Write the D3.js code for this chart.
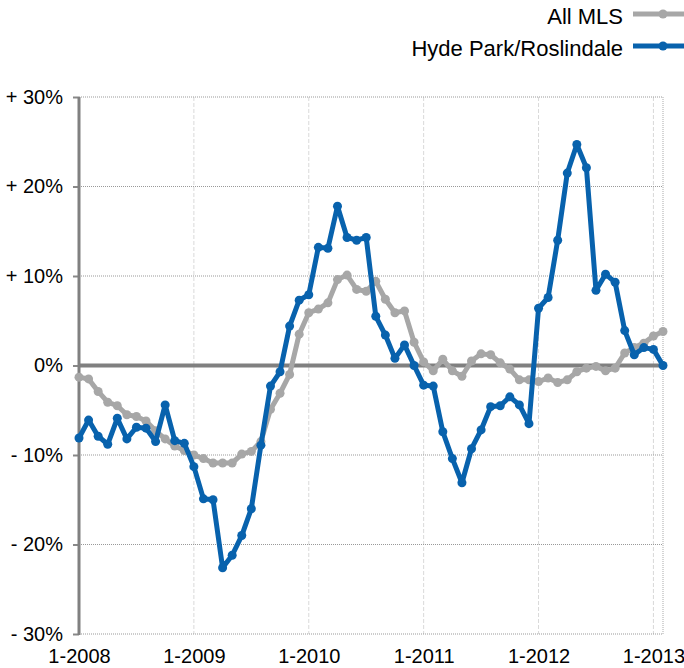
<!DOCTYPE html>
<html>
<head>
<meta charset="utf-8">
<script src="https://cdn.jsdelivr.net/npm/d3@7"></script>
<style>
  body { margin: 0; background: #fff; }
  svg { display: block; font-family: "Liberation Sans", Arial, Helvetica, sans-serif; }
</style>
</head>
<body>
<div id="chart"></div>
<script>
// monthly change, Jan 2008 .. Feb 2013
const months = d3.timeMonths(new Date(2008, 0, 1), new Date(2013, 2, 1));

const allMls = [
  -1.3, -1.5, -2.9, -4.1, -4.5, -5.5, -5.7, -6.2, -7.3, -8.2, -9.0, -9.5,
  -10.0, -10.4, -10.9, -10.9, -10.9, -9.9, -9.6, -8.5, -4.9, -3.1, -1.0, 3.5,
  5.9, 6.3, 7.0, 9.6, 10.1, 8.5, 8.3, 9.4, 7.4, 5.9, 6.1, 2.6,
  0.4, -0.6, 0.7, -0.6, -1.2, 0.5, 1.3, 1.2, 0.3, -0.4, -1.6, -1.6,
  -1.8, -1.4, -1.9, -1.6, -0.7, -0.3, -0.1, -0.6, -0.3, 1.4, 2.0, 2.5,
  3.3, 3.8
];

const hydePark = [
  -8.1, -6.1, -7.9, -8.8, -5.9, -8.2, -6.9, -7.0, -8.5, -4.4, -8.4, -8.7,
  -11.3, -14.9, -15.0, -22.6, -21.2, -19.0, -16.0, -8.9, -2.3, -0.7, 4.4, 7.3,
  7.9, 13.2, 13.1, 17.8, 14.3, 14.0, 14.3, 5.5, 3.4, 0.8, 2.3, 0.0,
  -2.2, -2.3, -7.4, -10.4, -13.1, -9.3, -7.2, -4.6, -4.5, -3.5, -4.4, -6.5,
  6.4, 7.6, 14.0, 21.5, 24.7, 22.1, 8.4, 10.2, 9.3, 3.9, 1.2, 2.0,
  1.8, 0.0
];

const yTicks = [-30, -20, -10, 0, 10, 20, 30];
const xTickYears = [2008, 2009, 2010, 2011, 2012, 2013];

const series = [
  { name: 'All MLS', values: allMls, color: '#a7a7a7' },
  { name: 'Hyde Park/Roslindale', values: hydePark, color: '#0862ad' }
];

const width = 684, height = 668;
const plotLeft = 79, plotRight = 663, plotTop = 97, plotBottom = 634;

const svg = d3.select('#chart').append('svg')
  .attr('width', width)
  .attr('height', height);

const x = d3.scaleLinear().domain([0, months.length - 1]).range([plotLeft, plotRight]);
const y = d3.scaleLinear().domain([-30, 30]).range([plotBottom, plotTop]);

// vertical year gridlines
svg.append('g').selectAll('line')
  .data(xTickYears.slice(1))
  .enter().append('line')
  .attr('x1', d => x((d - 2008) * 12)).attr('x2', d => x((d - 2008) * 12))
  .attr('y1', plotTop).attr('y2', plotBottom)
  .attr('stroke', '#d9d9d9')
  .attr('stroke-width', 1)
  .attr('stroke-dasharray', '4,2');

// right border
svg.append('line')
  .attr('x1', plotRight).attr('x2', plotRight)
  .attr('y1', plotTop).attr('y2', plotBottom)
  .attr('stroke', '#aaa')
  .attr('stroke-dasharray', '1,1');

// horizontal gridlines
svg.append('g').selectAll('line')
  .data(yTicks.filter(d => d !== 0))
  .enter().append('line')
  .attr('x1', plotLeft).attr('x2', plotRight)
  .attr('y1', d => y(d)).attr('y2', d => y(d))
  .attr('stroke', '#999')
  .attr('stroke-width', 1)
  .attr('stroke-dasharray', '1,1');

// y axis
const yAxis = d3.axisLeft(y)
  .tickValues(yTicks)
  .tickSize(6)
  .tickPadding(10)
  .tickFormat(d => d > 0 ? '+ ' + d + '%' : d < 0 ? '- ' + (-d) + '%' : '0%');

const gy = svg.append('g')
  .attr('transform', `translate(${plotLeft},0)`)
  .call(yAxis);
gy.select('.domain').remove();
gy.selectAll('.tick line').attr('stroke', '#888').attr('stroke-width', 2);
gy.selectAll('.tick text')
  .attr('fill', '#000')
  .style('font-size', '20px')
  .attr('font-family', null);

// x axis labels
const gx = svg.append('g')
  .attr('transform', `translate(0,${plotBottom})`)
  .call(d3.axisBottom(x)
    .tickValues(xTickYears.map(d => (d - 2008) * 12))
    .tickSize(0)
    .tickPadding(15)
    .tickFormat(d => '1-' + (2008 + d / 12)));
gx.select('.domain').remove();
gx.selectAll('.tick text')
  .attr('fill', '#000')
  .style('font-size', '20px')
  .attr('font-family', null);

// zero line
svg.append('line')
  .attr('x1', plotLeft).attr('x2', plotRight)
  .attr('y1', y(0)).attr('y2', y(0))
  .attr('stroke', '#808080')
  .attr('stroke-width', 4);

// left axis line
svg.append('line')
  .attr('x1', plotLeft).attr('x2', plotLeft)
  .attr('y1', plotTop).attr('y2', plotBottom + 1)
  .attr('stroke', '#808080')
  .attr('stroke-width', 3);

const line = d3.line()
  .x((d, i) => x(i))
  .y(d => y(d));

series.forEach(s => {
  const g = svg.append('g');
  g.append('path')
    .datum(s.values)
    .attr('d', line)
    .attr('fill', 'none')
    .attr('stroke', s.color)
    .attr('stroke-width', 5)
    .attr('stroke-linejoin', 'round');
  g.selectAll('circle')
    .data(s.values)
    .enter().append('circle')
    .attr('cx', (d, i) => x(i))
    .attr('cy', d => y(d))
    .attr('r', 4.5)
    .attr('fill', s.color);
});

// legend
const legend = svg.append('g');
series.forEach((s, i) => {
  const ly = 14 + i * 32;
  legend.append('line')
    .attr('x1', 633).attr('x2', 690)
    .attr('y1', ly).attr('y2', ly)
    .attr('stroke', s.color)
    .attr('stroke-width', 5);
  legend.append('circle')
    .attr('cx', 663).attr('cy', ly).attr('r', 4.5)
    .attr('fill', s.color);
  legend.append('text')
    .attr('x', 623).attr('y', ly + 10)
    .attr('text-anchor', 'end')
    .style('font-size', '22px')
    .text(s.name);
});
</script>
</body>
</html>
